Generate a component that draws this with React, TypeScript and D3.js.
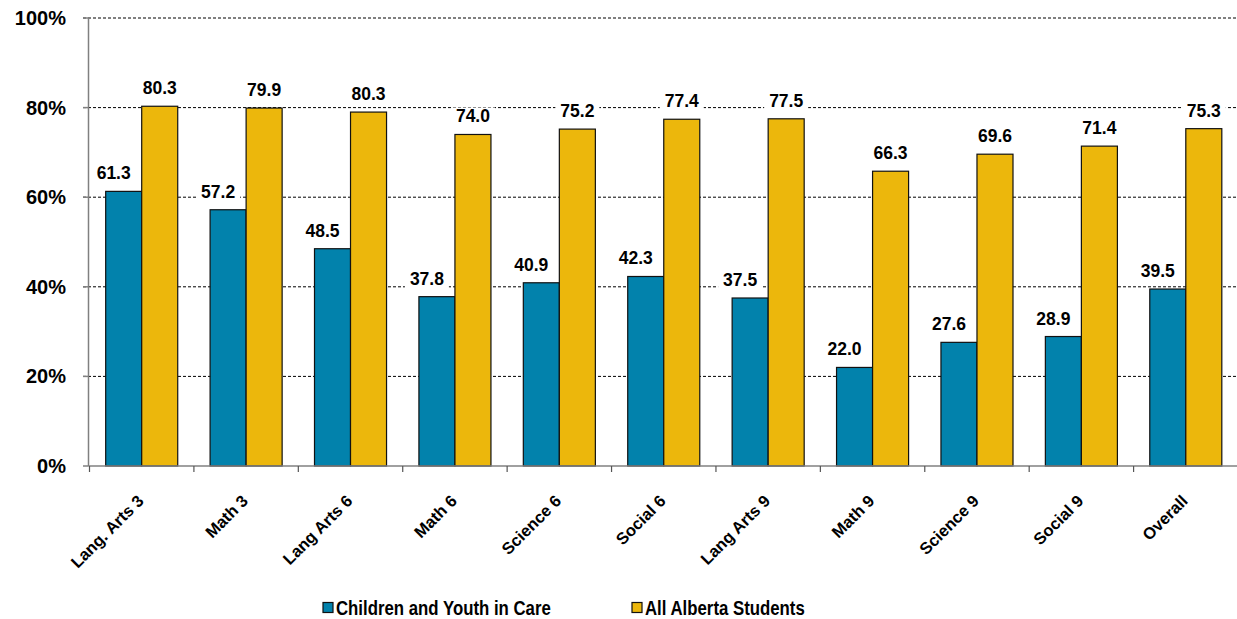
import React from "react";
import * as d3 from "d3";

const categories = ["Lang. Arts 3", "Math 3", "Lang Arts 6", "Math 6", "Science 6", "Social 6", "Lang Arts 9", "Math 9", "Science 9", "Social 9", "Overall"];
const seriesNames = ["Children and Youth in Care", "All Alberta Students"];
// bar heights as drawn
const careValues = [61.3, 57.2, 48.5, 37.8, 40.9, 42.3, 37.5, 22.0, 27.6, 28.9, 39.5];
const albertaValues = [80.3, 79.9, 79.0, 74.0, 75.2, 77.4, 77.5, 65.8, 69.6, 71.4, 75.3];
// printed data labels
const careLabels = ["61.3", "57.2", "48.5", "37.8", "40.9", "42.3", "37.5", "22.0", "27.6", "28.9", "39.5"];
const albertaLabels = ["80.3", "79.9", "80.3", "74.0", "75.2", "77.4", "77.5", "66.3", "69.6", "71.4", "75.3"];
const yTicks = [0, 20, 40, 60, 80, 100];

const W = 1237;
const H = 619;
const FONT = "'Liberation Sans', Arial, sans-serif";
const COLORS = ["#0282AC", "#ECB70C"];

export default function App() {
  const x = d3.scaleBand<string>().domain(categories).range([89.5, 1238]).paddingInner(0.31).paddingOuter(0.155);
  const xs = d3.scaleBand<string>().domain(["0", "1"]).range([0, x.bandwidth()]);
  const y = d3.scaleLinear().domain([0, 100]).range([466, 18]);
  const step = x.step();
  const x0 = 89.5;
  const series = [
    { vals: careValues, labels: careLabels, dx: -10 },
    { vals: albertaValues, labels: albertaLabels, dx: 0 },
  ];

  return (
    <svg width={W} height={H} style={{ position: "absolute", left: 0, top: 0, background: "#fff" }} fontFamily={FONT}>
      {/* gridlines */}
      {yTicks.filter((t) => t > 0).map((t) => (
        <line key={t} x1={83} x2={W} y1={y(t)} y2={y(t)} stroke="#000" strokeWidth={1} strokeDasharray="3,2" />
      ))}
      {/* y tick marks + labels */}
      {yTicks.map((t) => (
        <g key={"yt" + t}>
          <line x1={83} x2={88.5} y1={y(t)} y2={y(t)} stroke="#808080" strokeWidth={1.5} />
          <text x={66} y={y(t) + 7} textAnchor="end" fontSize={20} fontWeight="bold" fill="#000">
            {t}%
          </text>
        </g>
      ))}
      {/* bars */}
      {categories.map((c, i) =>
        series.map((s, k) => {
          const bx = (x(c) as number) + (xs(String(k)) as number);
          const by = y(s.vals[i]);
          return (
            <rect key={c + k} x={bx} y={by} width={xs.bandwidth()} height={y(0) - by} fill={COLORS[k]} stroke="#111" strokeWidth={1.2} />
          );
        })
      )}
      {/* data labels */}
      {categories.map((c, i) =>
        series.map((s, k) => {
          const cx = (x(c) as number) + (xs(String(k)) as number) + xs.bandwidth() / 2 + s.dx;
          const by = y(s.vals[i]) - 12;
          return (
            <g key={"l" + c + k}>
              <rect x={cx - 22} y={by - 15} width={44} height={19} fill="#fff" />
              <text x={cx} y={by} textAnchor="middle" fontSize={17.5} fontWeight="bold" fill="#000">
                {s.labels[i]}
              </text>
            </g>
          );
        })
      )}
      {/* axes */}
      <line x1={88.5} x2={88.5} y1={18} y2={466} stroke="#808080" strokeWidth={1.5} />
      <line x1={88.5} x2={W} y1={466} y2={466} stroke="#808080" strokeWidth={1.5} />
      {d3.range(categories.length + 1).map((j) => (
        <line key={"xt" + j} x1={x0 + j * step} x2={x0 + j * step} y1={466} y2={472} stroke="#555" strokeWidth={1.2} />
      ))}
      {/* x labels */}
      {categories.map((c) => {
        const cx = (x(c) as number) + x.bandwidth() / 2 + 3;
        return (
          <text key={"xl" + c} transform={`translate(${cx},${502}) rotate(-45)`} textAnchor="end" fontSize={16.5} fontWeight="bold" fill="#000">
            {c}
          </text>
        );
      })}
      {/* legend */}
      {seriesNames.map((n, k) => {
        const lx = k === 0 ? 323 : 632;
        return (
          <g key={"lg" + k}>
            <rect x={lx} y={602.5} width={10} height={10} fill={COLORS[k]} stroke="#111" strokeWidth={1.2} />
            <text transform={`translate(${lx + 13},${614.5}) scale(0.84,1)`} fontSize={20} fontWeight="bold" fill="#000">
              {n}
            </text>
          </g>
        );
      })}
    </svg>
  );
}
